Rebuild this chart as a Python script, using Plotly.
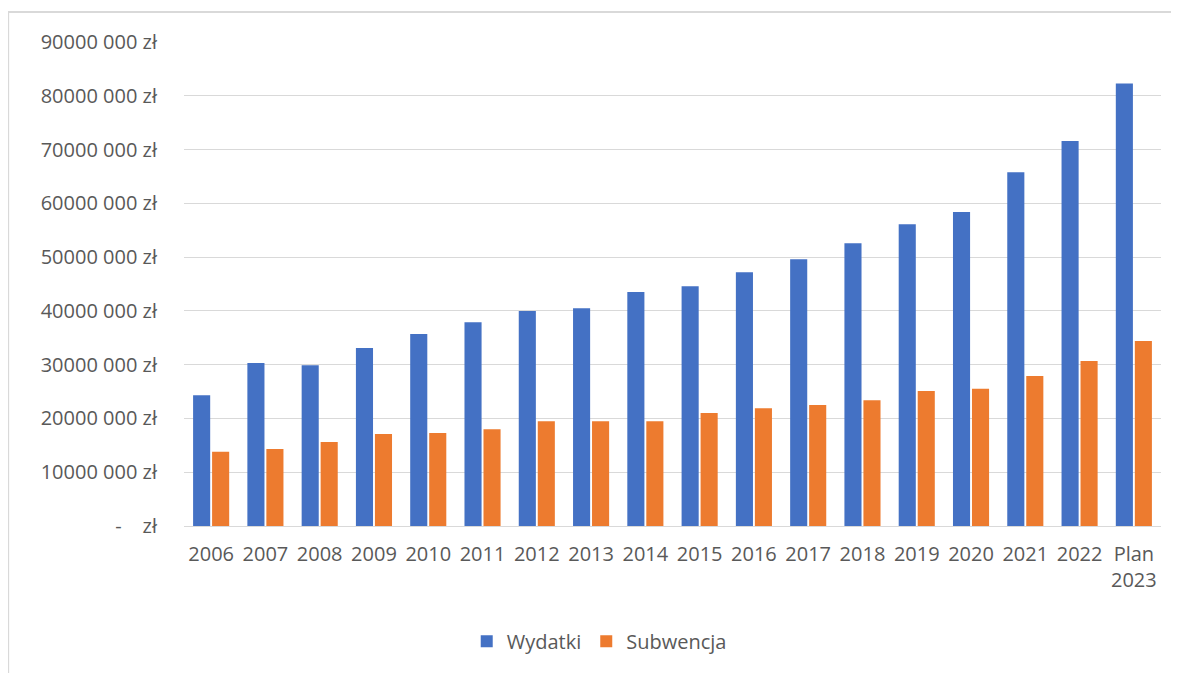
import plotly.graph_objects as go

categories = ["2006", "2007", "2008", "2009", "2010", "2011", "2012", "2013", "2014",
              "2015", "2016", "2017", "2018", "2019", "2020", "2021", "2022", "Plan<br>2023"]
wydatki = [24.3, 30.3, 29.9, 33.1, 35.7, 37.9, 40.0, 40.5, 43.5, 44.6, 47.2, 49.6,
           52.6, 56.1, 58.4, 65.8, 71.6, 82.3]
subwencja = [13.8, 14.3, 15.6, 17.1, 17.3, 18.0, 19.5, 19.5, 19.5, 21.0, 21.9, 22.5,
             23.4, 25.1, 25.5, 27.9, 30.7, 34.4]
wydatki = [v * 1_000_000 for v in wydatki]
subwencja = [v * 1_000_000 for v in subwencja]

tick_vals = [0, 10e6, 20e6, 30e6, 40e6, 50e6, 60e6, 70e6, 80e6, 90e6]
tick_text = ["-\u00a0\u00a0\u00a0\u00a0zł", "10000 000 zł", "20000 000 zł", "30000 000 zł",
             "40000 000 zł", "50000 000 zł", "60000 000 zł", "70000 000 zł",
             "80000 000 zł", "90000 000 zł"]

font = "Open Sans, Liberation Sans, sans-serif"
grey = "#595959"

fig = go.Figure()
fig.add_trace(go.Bar(x=categories, y=wydatki, name="Wydatki",
                     marker=dict(color="#4471C4", line=dict(width=0))))
fig.add_trace(go.Bar(x=categories, y=subwencja, name="Subwencja",
                     marker=dict(color="#ED7B2F", line=dict(width=0))))

fig.update_layout(
    width=1171, height=665,
    margin=dict(l=176, r=18, t=34, b=147),
    paper_bgcolor="white", plot_bgcolor="white",
    barmode="group", bargap=0.3, bargroupgap=0.1,
    font=dict(family=font, size=20, color=grey),
    showlegend=True,
    legend=dict(orientation="h", x=0.425, y=-0.238, xanchor="center", yanchor="middle",
                font=dict(size=20, color=grey), itemwidth=30, traceorder="normal"),
    xaxis=dict(showgrid=False, showline=True, linecolor="#D9D9D9", linewidth=1,
               tickfont=dict(size=20, color=grey), ticks="", tickangle=0,
               ticklabelstandoff=10),
    yaxis=dict(range=[0, 90e6], tickvals=tick_vals, ticktext=tick_text,
               showgrid=True, gridcolor="#D9D9D9", gridwidth=1, zeroline=False,
               showline=False, ticklabelstandoff=26,
               tickfont=dict(size=20, color=grey)),
    shapes=[dict(type="rect", xref="paper", yref="paper",
                 x0=-0.180, x1=1.2, y0=-0.4, y1=1.062,
                 line=dict(color="#D9D9D9", width=2), fillcolor="rgba(0,0,0,0)",
                 layer="below")],
)

fig.write_html("out.html")
